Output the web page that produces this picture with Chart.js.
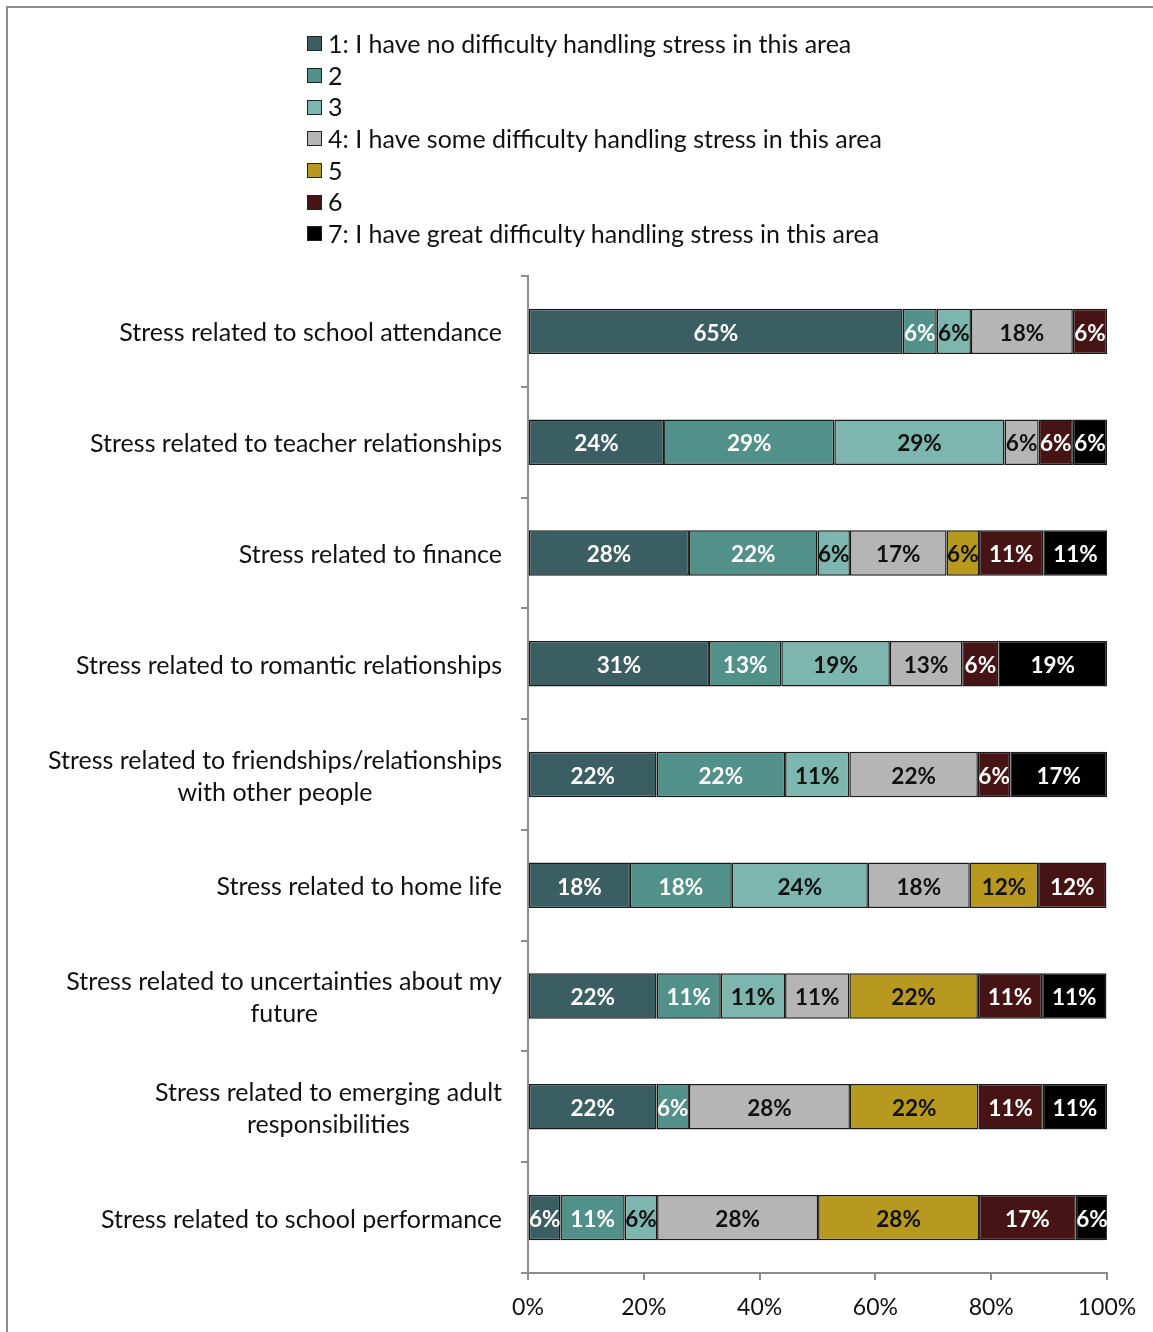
<!DOCTYPE html>
<html>
<head>
<meta charset="utf-8">
<title>Stress handling by area</title>
<script src="https://cdn.jsdelivr.net/npm/chart.js@4"></script>
<style>
  html, body { margin: 0; padding: 0; background: #fff; overflow: hidden; }
  #wrap { position: relative; width: 1153px; height: 1332px; }
  #frame { position: absolute; left: 6px; top: 6px; width: 1200px; height: 1400px;
           border: 2px solid #8c8c8c; box-sizing: border-box; pointer-events: none; }
  #legend { position: absolute; left: 307px; top: 28px; margin: 0; padding: 0; list-style: none;
            font-family: Lato, "Open Sans", sans-serif; font-size: 25px; color: #111; }
  #legend li { height: 31.7px; line-height: 31.7px; display: flex; align-items: center; white-space: nowrap; }
  #legend .box { width: 13px; height: 13px; border: 1.5px solid #222; margin-right: 6px; flex: none; }
  canvas { position: absolute; left: 0; top: 0; }
</style>
</head>
<body>
<div id="wrap">
  <canvas id="chart" width="1153" height="1332"></canvas>
  <ul id="legend"></ul>
  <div id="frame"></div>
</div>
<script>
// Stress areas (one bar each), top to bottom
const categories = [
  ["Stress related to school attendance"],
  ["Stress related to teacher relationships"],
  ["Stress related to finance"],
  ["Stress related to romantic relationships"],
  ["Stress related to friendships/relationships", "with other people"],
  ["Stress related to home life"],
  ["Stress related to uncertainties about my", "future"],
  ["Stress related to emerging adult", "responsibilities"],
  ["Stress related to school performance"]
];

// Rating scale labels
const seriesNames = [
  "1: I have no difficulty handling stress in this area",
  "2",
  "3",
  "4: I have some difficulty handling stress in this area",
  "5",
  "6",
  "7: I have great difficulty handling stress in this area"
];

// Share of respondents (%) per rating, one value per stress area
const rating1 = [64.7, 23.5, 27.8, 31.25, 22.2, 17.6, 22.2, 22.2, 5.6];
const rating2 = [5.9, 29.4, 22.2, 12.5, 22.2, 17.6, 11.1, 5.6, 11.1];
const rating3 = [5.9, 29.4, 5.6, 18.75, 11.1, 23.5, 11.1, 0, 5.6];
const rating4 = [17.6, 5.9, 16.7, 12.5, 22.2, 17.6, 11.1, 27.8, 27.8];
const rating5 = [0, 0, 5.6, 0, 0, 11.8, 22.2, 22.2, 27.8];
const rating6 = [5.9, 5.9, 11.1, 6.25, 5.6, 11.8, 11.1, 11.1, 16.7];
const rating7 = [0, 5.9, 11.1, 18.75, 16.7, 0, 11.1, 11.1, 5.6];

// x-axis tick values
const xTicks = [0, 20, 40, 60, 80, 100];

const fillColors = ["#3b5e63", "#52918a", "#7db5af", "#b5b5b5", "#b7991f", "#461414", "#000000"];
const labelColors = ["#ffffff", "#ffffff", "#111111", "#111111", "#111111", "#ffffff", "#ffffff"];
const seriesValues = [rating1, rating2, rating3, rating4, rating5, rating6, rating7];

const FONT = 'Lato, "Open Sans", sans-serif';
const AXIS_GREY = "#8c8c8c";

// Percent labels centred inside each segment
const segmentLabels = {
  id: "segmentLabels",
  afterDatasetsDraw(chart) {
    const ctx = chart.ctx;
    ctx.save();
    ctx.font = "bold 22.5px " + FONT;
    ctx.textAlign = "center";
    ctx.textBaseline = "middle";
    chart.data.datasets.forEach((ds, di) => {
      const meta = chart.getDatasetMeta(di);
      meta.data.forEach((bar, i) => {
        const v = ds.data[i];
        if (!v) return;
        const p = bar.getProps(["x", "base", "y"], true);
        ctx.fillStyle = labelColors[di];
        ctx.fillText(Math.round(v) + "%", (p.x + p.base) / 2, p.y + 2);
      });
    });
    ctx.restore();
  }
};

// Category names: block right-aligned to the axis, lines centred within the block
const categoryLabels = {
  id: "categoryLabels",
  afterDraw(chart) {
    const ctx = chart.ctx;
    const yScale = chart.scales.y;
    const rightEdge = yScale.right - 26;
    const lineH = 32;
    ctx.save();
    ctx.font = "25px " + FONT;
    ctx.fillStyle = "#111";
    ctx.textAlign = "center";
    ctx.textBaseline = "middle";
    yScale.getLabels().forEach((lines, i) => {
      const yc = yScale.getPixelForValue(i) + 2;
      const widest = Math.max(...lines.map(l => ctx.measureText(l).width));
      const cx = rightEdge - widest / 2;
      const y0 = yc - (lines.length - 1) * lineH / 2;
      lines.forEach((l, k) => ctx.fillText(l, cx, y0 + k * lineH));
    });
    ctx.restore();
  }
};

const datasets = seriesNames.map((name, i) => ({
  label: name,
  data: seriesValues[i],
  backgroundColor: fillColors[i],
  borderColor: "#1a1a1a",
  borderWidth: 1.5,
  borderSkipped: false,
  barPercentage: 0.41,
  categoryPercentage: 1.0
}));

const chart = new Chart(document.getElementById("chart"), {
  type: "bar",
  data: { labels: categories, datasets },
  options: {
    indexAxis: "y",
    responsive: false,
    animation: false,
    layout: { padding: { top: 276, right: 46, bottom: 0, left: 0 } },
    plugins: { legend: { display: false }, tooltip: { enabled: false } },
    scales: {
      x: {
        stacked: true,
        min: 0,
        max: 100,
        afterBuildTicks(scale) { scale.ticks = xTicks.map(v => ({ value: v })); },
        afterFit(scale) { scale.height = 59; },
        border: { color: AXIS_GREY, width: 2 },
        grid: { drawOnChartArea: false, drawTicks: true, tickLength: 7, color: AXIS_GREY, lineWidth: 2 },
        ticks: {
          font: { family: FONT, size: 23 },
          color: "#111",
          padding: 14,
          maxRotation: 0,
          callback: v => v + "%"
        }
      },
      y: {
        stacked: true,
        afterFit(scale) { scale.width = 528; },
        border: { color: AXIS_GREY, width: 2 },
        grid: { offset: true, drawOnChartArea: false, drawTicks: true, tickLength: 7, color: AXIS_GREY, lineWidth: 2 },
        ticks: { display: false }
      }
    }
  },
  plugins: [segmentLabels, categoryLabels]
});

// Single-column legend built from the chart's datasets
const legendEl = document.getElementById("legend");
chart.data.datasets.forEach(ds => {
  const li = document.createElement("li");
  const box = document.createElement("span");
  box.className = "box";
  box.style.background = ds.backgroundColor;
  const txt = document.createElement("span");
  txt.textContent = ds.label;
  li.appendChild(box);
  li.appendChild(txt);
  legendEl.appendChild(li);
});
</script>
</body>
</html>
